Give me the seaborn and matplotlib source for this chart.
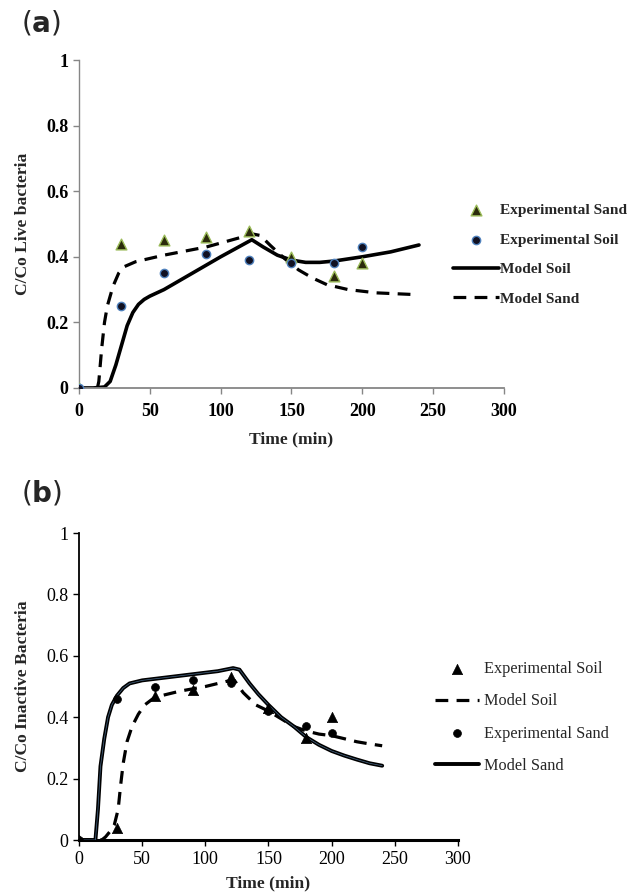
import matplotlib
matplotlib.use('Agg')
import matplotlib.pyplot as plt
import seaborn as sns
import pandas as pd

# ---------- panel (a): live bacteria ----------
exp_time = [0, 30, 60, 90, 120, 150, 180, 200]
a_exp_sand = [0.0, 0.44, 0.45, 0.46, 0.48, 0.40, 0.34, 0.38]
a_exp_soil = [0.0, 0.25, 0.35, 0.41, 0.39, 0.38, 0.38, 0.43]

a_soil_t = [0, 10, 18, 22, 26, 30, 34, 38, 42, 46, 50, 60, 80, 100, 122,
            130, 140, 150, 160, 170, 180, 200, 220, 240]
a_soil_v = [0.0, 0.0, 0.003, 0.02, 0.07, 0.13, 0.19, 0.23, 0.255, 0.27, 0.28, 0.30,
            0.35, 0.40, 0.452, 0.43, 0.405, 0.39, 0.383, 0.383, 0.387, 0.40, 0.415, 0.436]

a_sand_t = [13, 14, 16, 18, 20, 24, 28, 32, 40, 60, 90, 115, 122, 128,
            135, 145, 155, 165, 175, 190, 210, 236]
a_sand_v = [0.0, 0.02, 0.12, 0.20, 0.25, 0.31, 0.35, 0.37, 0.385, 0.405, 0.43, 0.46,
            0.47, 0.465, 0.435, 0.395, 0.36, 0.335, 0.315, 0.30, 0.29, 0.285]

# ---------- panel (b): inactive bacteria ----------
b_exp_soil = [0.0, 0.04, 0.47, 0.49, 0.53, 0.43, 0.333, 0.40]
b_exp_sand = [0.0, 0.46, 0.50, 0.52, 0.51, 0.42, 0.37, 0.35]

b_sand_t = [0, 13, 15, 17, 20, 23, 26, 30, 35, 40, 50, 80, 110, 122, 127, 135,
            142, 150, 160, 170, 180, 190, 200, 210, 220, 230, 240]
b_sand_v = [0.0, 0.0, 0.10, 0.24, 0.33, 0.40, 0.44, 0.47, 0.495, 0.51, 0.52, 0.535,
            0.55, 0.56, 0.555, 0.51, 0.475, 0.44, 0.40, 0.37, 0.335, 0.31, 0.29,
            0.275, 0.262, 0.25, 0.242]

b_soil_t = [0, 18, 21, 25, 28, 31, 33, 35, 38, 42, 47, 52, 60, 80, 100, 120, 123,
            130, 140, 150, 160, 170, 180, 190, 200, 210, 220, 230, 240]
b_soil_v = [0.0, 0.0, 0.01, 0.03, 0.05, 0.10, 0.18, 0.25, 0.32, 0.37, 0.41, 0.44,
            0.465, 0.485, 0.50, 0.52, 0.52, 0.48, 0.44, 0.42, 0.395, 0.37, 0.355,
            0.345, 0.34, 0.33, 0.32, 0.313, 0.307]

x_ticks = [0, 50, 100, 150, 200, 250, 300]
y_ticks = [0, 0.2, 0.4, 0.6, 0.8, 1]
y_ticklabels = ['0', '0.2', '0.4', '0.6', '0.8', '1']

sns.set_style('ticks')
plt.rcParams['font.family'] = ['Liberation Serif', 'DejaVu Serif']
plt.rcParams['mathtext.fontset'] = 'dejavusans'

fig = plt.figure(figsize=(6.31, 8.96), dpi=100)
ax_a = fig.add_axes([0.1252, 0.567, 0.6735, 0.366])
ax_b = fig.add_axes([0.1252, 0.0625, 0.6006, 0.3426])

# --- draw (a)
df = pd.DataFrame({'t': a_sand_t, 'v': a_sand_v})
sns.lineplot(data=df, x='t', y='v', ax=ax_a, color='black', lw=2.3,
             linestyle=(0, (4, 2.6)), estimator=None, label='Model Sand')
df = pd.DataFrame({'t': a_soil_t, 'v': a_soil_v})
sns.lineplot(data=df, x='t', y='v', ax=ax_a, color='black', lw=2.6,
             estimator=None, label='Model Soil')
df = pd.DataFrame({'t': exp_time, 'v': a_exp_sand})
sns.scatterplot(data=df, x='t', y='v', ax=ax_a, marker='^', s=60,
                color='#2b2b0c', edgecolor='#9bbb59', linewidth=1.0,
                label='Experimental Sand', zorder=4)
df = pd.DataFrame({'t': exp_time, 'v': a_exp_soil})
sns.scatterplot(data=df, x='t', y='v', ax=ax_a, marker='o', s=36,
                color='#111122', edgecolor='#4f81bd', linewidth=1.0,
                label='Experimental Soil', zorder=4)

# --- draw (b)
df = pd.DataFrame({'t': b_soil_t, 'v': b_soil_v})
sns.lineplot(data=df, x='t', y='v', ax=ax_b, color='black', lw=2.3,
             linestyle=(0, (4, 2.6)), estimator=None, label='Model Soil')
df = pd.DataFrame({'t': b_sand_t, 'v': b_sand_v})
sns.lineplot(data=df, x='t', y='v', ax=ax_b, color='black', lw=2.8,
             estimator=None, label='Model Sand')
ax_b.plot(b_sand_t, b_sand_v, color='#4a6a8a', lw=0.5, zorder=3)
df = pd.DataFrame({'t': exp_time, 'v': b_exp_soil})
sns.scatterplot(data=df, x='t', y='v', ax=ax_b, marker='^', s=55,
                color='black', edgecolor='black', linewidth=0.5,
                label='Experimental Soil', zorder=4)
df = pd.DataFrame({'t': exp_time, 'v': b_exp_sand})
sns.scatterplot(data=df, x='t', y='v', ax=ax_b, marker='o', s=32,
                color='black', edgecolor='black', linewidth=0.5,
                label='Experimental Sand', zorder=4)

# --- axes styling
for ax, spine_col, wt, ylab in [(ax_a, '#868686', 'bold', 'C/Co Live bacteria'),
                                (ax_b, 'black', 'normal', 'C/Co Inactive Bacteria')]:
    ax.set_xlim(0, 300)
    ax.set_ylim(0, 1)
    ax.set_xticks(x_ticks)
    ax.set_xticklabels([str(t) for t in x_ticks], fontsize=13, fontweight=wt)
    ax.set_yticks(y_ticks)
    ax.set_yticklabels(y_ticklabels, fontsize=13, fontweight=wt)
    ax.set_ylabel(ylab, fontsize=12.6, fontweight='bold', labelpad=11)
    sns.despine(ax=ax)
    for s in ['left', 'bottom']:
        ax.spines[s].set_color(spine_col)
    ax.tick_params(colors=spine_col, labelcolor='black', length=4, width=1)
    ax.get_legend().remove()

ax_a.set_xlabel('Time (min)', fontsize=12.6, fontweight='bold', labelpad=8)
ax_b.set_xlabel('Time (min)', fontsize=12.6, fontweight='bold', labelpad=5)
ax_a.spines['left'].set_linewidth(1.0)
ax_a.spines['bottom'].set_linewidth(1.3)
ax_b.spines['left'].set_linewidth(1.3)
ax_b.spines['bottom'].set_linewidth(2.2)
ax_a.tick_params(axis='x', pad=7)
ax_b.tick_params(axis='x', pad=4)

# --- legends
h, l = ax_a.get_legend_handles_labels()
order = ['Experimental Sand', 'Experimental Soil', 'Model Soil', 'Model Sand']
hd = dict(zip(l, h))
fig.legend([hd[k] for k in order], order, loc='upper left',
           bbox_to_anchor=(0.718, 0.773), frameon=False, borderpad=0,
           borderaxespad=0, handlelength=2.95, handletextpad=0.1,
           labelspacing=1.02, prop={'size': 11.1, 'weight': 'bold'})

h, l = ax_b.get_legend_handles_labels()
order = ['Experimental Soil', 'Model Soil', 'Experimental Sand', 'Model Sand']
hd = dict(zip(l, h))
fig.legend([hd[k] for k in order], order, loc='upper left',
           bbox_to_anchor=(0.689, 0.262), frameon=False, borderpad=0,
           borderaxespad=0, handlelength=2.7, handletextpad=0.3,
           labelspacing=1.0, prop={'size': 11.7})

# --- panel letters
fig.text(0.034, 0.974, r'($\mathbf{a}$)', fontsize=20, va='center',
         family='DejaVu Sans')
fig.text(0.034, 0.450, r'($\mathbf{b}$)', fontsize=20, va='center',
         family='DejaVu Sans')

fig.savefig('out.png', dpi=100)
